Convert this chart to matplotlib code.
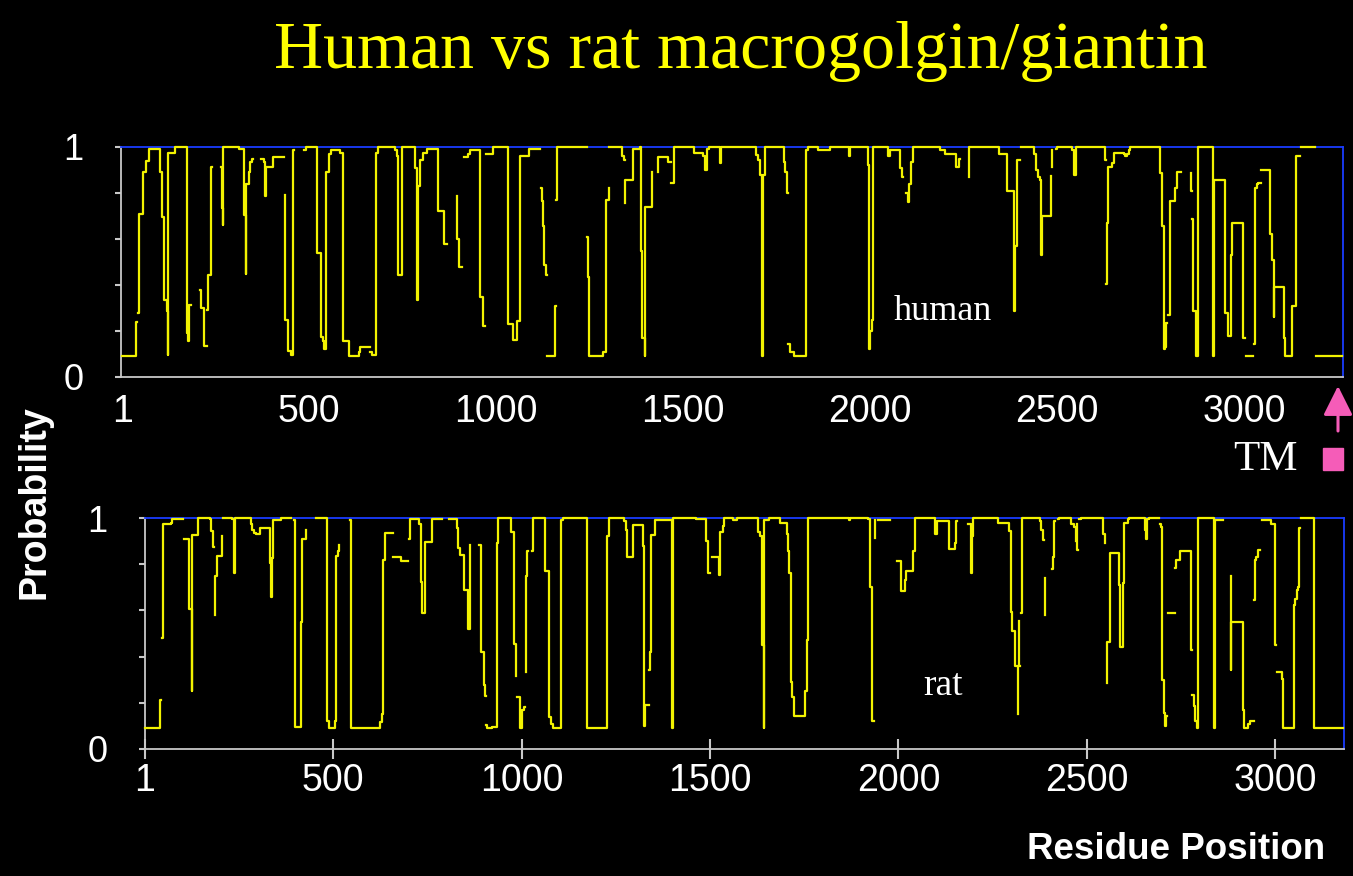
import numpy as np
import matplotlib
matplotlib.use("Agg")
import matplotlib.pyplot as plt
from matplotlib.patches import Rectangle

gap = np.nan

# probability steps: (residue, probability), gap = no line
human_steps = [
    (1, .09), (37, .24), (39, gap), (42, .28), (44, .71), (55, .89), (63, .94), (73, .99),
    (100, .89), (106, .695), (111, .655), (113, .335), (119, .285), (122, .095), (124, .975),
    (141, 1.0), (173, .19), (177, .155), (180, .315), (184, gap), (209, .38), (210, .30),
    (220, .135), (227, gap), (228, .29), (229, .445), (237, .915), (240, gap),
    (264, .915), (267, .735), (270, .66), (271, 1.0), (313, .99), (326, .705), (330, .45),
    (332, .84), (338, .89), (341, .935), (348, .95), (350, gap), (371, .95), (380, .935),
    (381, .785), (386, .915), (404, .955), (433, gap), (435, .79), (436, .25), (444, .115),
    (451, .095), (458, .985), (460, gap), (486, .985), (491, 1.0), (520, .54), (531, .175),
    (537, .155), (540, .12), (544, .89), (553, .97), (559, .985), (582, .975), (591, .155),
    (606, .09), (633, .11), (637, .13), (662, gap), (664, .11), (668, .095), (680, .975),
    (684, 1.0), (731, .985), (735, .96), (738, .445), (748, 1.0), (784, .91), (788, .335),
    (790, .83), (796, .90), (797, .945), (804, .975), (815, .99), (844, .72), (862, .58),
    (868, gap), (895, .785), (896, .60), (902, .48), (908, gap), (913, .955), (926, .97),
    (931, .985), (956, .35), (964, .22), (971, gap), (972, .97), (993, 1.0), (1033, .23),
    (1044, .16), (1057, .245), (1064, .96), (1089, .99), (1117, gap), (1119, .82),
    (1124, .765), (1126, .655), (1129, .485), (1133, .445), (1135, gap), (1137, .09),
    (1158, .31), (1160, gap), (1161, .77), (1163, 1.0), (1243, gap), (1244, .61),
    (1245, .435), (1249, .09), (1287, .11), (1294, .77), (1301, .82), (1302, gap),
    (1303, 1.0), (1336, .96), (1342, .945), (1344, gap), (1345, .755), (1346, .855),
    (1365, .99), (1385, 1.0), (1387, .55), (1391, .17), (1397, .09), (1398, .74),
    (1416, .89), (1418, gap), (1432, .89), (1434, .955), (1461, .935), (1467, gap),
    (1469, .845), (1476, 1.0), (1529, .975), (1554, .96), (1558, .90), (1563, .99),
    (1570, 1.0), (1598, .93), (1601, 1.0), (1694, .965), (1701, .945), (1707, .88),
    (1710, .09), (1714, .88), (1718, 1.0), (1770, .935), (1774, .89), (1778, .80),
    (1780, gap), (1781, .145), (1787, .11), (1798, .09), (1830, .985), (1834, 1.0),
    (1861, .985), (1892, 1.0), (1943, .96), (1946, 1.0), (1994, .92), (1998, .12),
    (2001, .20), (2006, .25), (2007, 1.0), (2047, .96), (2054, .985), (2081, .91),
    (2086, .87), (2089, gap), (2096, .80), (2101, .76), (2105, .84), (2110, .935),
    (2114, 1.0), (2187, .985), (2201, .97), (2230, .915), (2237, .95), (2240, gap),
    (2264, .87), (2265, 1.0), (2345, .97), (2367, .81), (2385, .285), (2388, .57),
    (2392, .57), (2394, .945), (2400, gap), (2403, 1.0), (2438, .97), (2443, .955),
    (2445, .90), (2450, .87), (2454, .855), (2458, .53), (2459, .70), (2483, .875),
    (2485, gap), (2486, .985), (2487, .915), (2488, gap), (2498, .99), (2501, 1.0),
    (2541, .985), (2545, .88), (2551, 1.0), (2629, .945), (2631, gap), (2632, .405),
    (2634, .67), (2637, .915), (2647, .93), (2652, .975), (2678, .97), (2683, .96),
    (2687, .97), (2692, .985), (2696, 1.0), (2776, .885), (2781, .655), (2785, .12),
    (2790, .13), (2792, .235), (2794, gap), (2798, .27), (2803, .765), (2816, .82),
    (2822, .89), (2832, gap), (2858, .885), (2859, .81), (2860, gap), (2862, .685),
    (2865, .285), (2871, .09), (2878, 1.0), (2918, .09), (2921, .855), (2950, .28),
    (2958, .18), (2965, .53), (2969, .67), (2997, .17), (3003, gap), (3005, .09),
    (3025, gap), (3028, .145), (3030, .82), (3034, .84), (3038, .845), (3045, gap),
    (3047, .90), (3071, .62), (3076, .51), (3080, .26), (3081, .39), (3107, .17),
    (3110, .115), (3111, .09), (3129, .31), (3138, .96), (3150, gap), (3152, 1.0),
    (3190, gap), (3192, .09), (3262, .09),
]

rat_steps = [
    (1, .09), (42, .21), (43, gap), (45, .48), (49, .975), (69, .98), (73, .995),
    (102, gap), (104, .91), (118, .605), (125, .25), (127, .925), (142, 1.0), (173, .995),
    (177, .945), (182, .875), (184, gap), (186, .58), (188, .75), (192, .835), (205, .92),
    (206, gap), (208, 1.0), (232, .995), (236, .76), (239, 1.0), (281, .975), (286, .95),
    (290, .935), (296, .93), (305, .955), (333, .805), (336, .66), (339, .825), (341, .99),
    (362, 1.0), (389, gap), (395, .99), (398, .455), (400, .095), (415, .55), (418, .91),
    (427, .95), (429, gap), (455, 1.0), (484, .12), (488, .09), (504, .12), (508, .835),
    (512, .855), (515, .885), (517, gap), (546, .99), (548, .09), (625, .115), (630, .15),
    (633, .82), (638, .935), (658, gap), (660, .83), (680, .815), (698, gap), (702, .91),
    (705, .995), (728, .975), (733, .725), (737, .59), (743, .895), (762, .995), (790, gap),
    (808, .995), (828, .955), (832, .87), (837, .84), (846, .69), (859, .52), (862, .885),
    (864, gap), (887, .885), (892, .42), (900, .275), (903, .23), (905, gap), (907, .105),
    (909, .09), (922, .095), (934, .89), (938, 1.0), (973, .94), (980, .455), (984, .315),
    (986, gap), (989, .225), (995, .105), (997, .09), (1000, .17), (1006, .18), (1008, gap),
    (1011, .335), (1013, .75), (1015, .855), (1017, gap), (1028, .855), (1030, 1.0),
    (1061, .77), (1072, .14), (1077, .11), (1083, .09), (1105, .99), (1109, 1.0),
    (1174, .09), (1227, .92), (1231, 1.0), (1271, .985), (1276, .95), (1280, .83),
    (1296, .97), (1322, .88), (1326, .10), (1328, .19), (1337, gap), (1339, .34),
    (1341, .42), (1343, .925), (1355, .99), (1399, .09), (1402, 1.0), (1463, .995),
    (1490, .90), (1494, .76), (1500, gap), (1505, .83), (1524, .755), (1527, .94),
    (1534, .965), (1537, 1.0), (1562, .99), (1571, 1.0), (1626, .94), (1633, .92),
    (1637, .45), (1642, .09), (1644, .99), (1657, 1.0), (1686, .98), (1703, .93),
    (1708, .855), (1709, .76), (1714, .29), (1718, .225), (1723, .145), (1752, .25),
    (1758, .47), (1761, 1.0), (1869, .99), (1871, 1.0), (1919, .995), (1924, .70),
    (1930, .12), (1934, gap), (1937, .99), (1938, .915), (1939, gap), (1946, .99),
    (1977, gap), (1996, .815), (2008, .685), (2016, .73), (2021, .77), (2038, .855),
    (2043, 1.0), (2098, .93), (2103, .985), (2135, .865), (2149, .89), (2153, .985),
    (2155, gap), (2184, .975), (2193, .76), (2195, .92), (2197, 1.0), (2263, .98),
    (2293, .945), (2298, .595), (2301, .51), (2309, .36), (2316, .15), (2318, gap),
    (2320, .555), (2321, .36), (2322, gap), (2324, .59), (2327, .855), (2329, 1.0),
    (2375, .985), (2379, .95), (2383, .905), (2385, gap), (2388, .58), (2389, .74),
    (2390, gap), (2406, .78), (2411, .83), (2412, .985), (2414, gap), (2424, .995),
    (2426, 1.0), (2459, .975), (2465, .96), (2470, .90), (2472, gap), (2473, .975),
    (2474, .86), (2476, gap), (2479, .995), (2483, 1.0), (2543, .93), (2547, .89),
    (2549, gap), (2552, .285), (2553, .465), (2561, .85), (2585, .71), (2589, .44),
    (2595, .72), (2598, .98), (2609, .995), (2611, 1.0), (2653, .95), (2658, .91),
    (2660, .995), (2664, 1.0), (2690, gap), (2693, .975), (2697, .96), (2699, .30),
    (2704, .155), (2706, .10), (2711, .145), (2713, gap), (2715, .59), (2733, gap),
    (2734, .785), (2735, .82), (2748, .855), (2777, .43), (2779, gap), (2780, .235),
    (2785, .185), (2787, .12), (2793, .09), (2794, 1.0), (2836, .09), (2839, .99),
    (2860, gap), (2881, .75), (2882, .34), (2883, .55), (2915, .17), (2918, .09),
    (2927, .11), (2933, .12), (2942, gap), (2944, .645), (2945, .82), (2948, .83),
    (2953, .86), (2959, gap), (2964, .99), (2988, .975), (2995, .975), (2999, .45),
    (3001, gap), (3003, .335), (3017, .305), (3021, .09), (3049, .625), (3052, .65),
    (3056, .69), (3061, .70), (3063, .955), (3065, gap), (3068, 1.0), (3103, .09),
    (3180, .09),
]

xtick_values = [1, 500, 1000, 1500, 2000, 2500, 3000]
human_marked_ticks = [1, 1000, 1500, 2000]
ytick_values = [0, 0.2, 0.4, 0.6, 0.8, 1.0]
ytick_labels = ['0', '', '', '', '', '1']

W, H = 1353, 876
yellow = '#f2f200'
blue = '#1a3cff'
grey = '#c8c8c8'
pink = '#f55cb8'
sans = 'Liberation Sans'
serif = 'Liberation Serif'

fig = plt.figure(figsize=(W / 100, H / 100), dpi=100, facecolor='black')


def px_axes(left, top, right, bottom):
    return fig.add_axes([left / W, 1 - bottom / H, (right - left) / W, (bottom - top) / H])


def style_axes(ax, xlim, label_pad):
    ax.set_facecolor('black')
    ax.set_xlim(*xlim)
    ax.set_ylim(0, 1)
    ax.spines['top'].set_color(blue)
    ax.spines['right'].set_color(blue)
    ax.spines['left'].set_color(grey)
    ax.spines['bottom'].set_color(grey)
    for s in ax.spines.values():
        s.set_linewidth(1.3)
    ax.set_yticks(ytick_values)
    ax.set_yticklabels(ytick_labels)
    ax.tick_params(axis='y', direction='out', length=4, width=1.5, color=grey,
                   labelcolor='white', labelsize=26, pad=23)
    ax.set_xticks(xtick_values)
    ax.set_xticklabels([str(v) for v in xtick_values])
    ax.tick_params(axis='x', direction='inout', length=14, width=1.5, color=grey,
                   labelcolor='white', labelsize=27, pad=label_pad)
    for lab in ax.get_xticklabels() + ax.get_yticklabels():
        lab.set_family(sans)


def draw_steps(ax, steps):
    pos, prob = zip(*steps)
    ax.plot(pos, prob, drawstyle='steps-post', color=yellow, lw=1.6,
            zorder=3, clip_on=False)


# top panel: human
ax1 = px_axes(121, 147, 1343, 377)
style_axes(ax1, (-3, 3265), 10)
ax1.tick_params(axis='x', which='major', length=0, pad=12)
ax1.set_xticks(human_marked_ticks, minor=True)
ax1.tick_params(axis='x', which='minor', direction='inout', length=14, width=1.5, color=grey)
draw_steps(ax1, human_steps)

# bottom panel: rat
ax2 = px_axes(145, 518, 1344, 749)
style_axes(ax2, (4, 3182), 3)
draw_steps(ax2, rat_steps)

fig.text(741 / W, 1 - 68 / H, 'Human vs rat macrogolgin/giantin', color='#ffff00',
         family=serif, fontsize=49, ha='center', va='baseline')
fig.text(35 / W, 1 - 502 / H, 'Probability', color='white', family=sans,
         fontweight='bold', fontsize=27, rotation=90, ha='center', va='center')
fig.text(1325 / W, 1 - 859 / H, 'Residue Position', color='white', family=sans,
         fontweight='bold', fontsize=26.5, ha='right', va='baseline')
fig.text(943 / W, 1 - 320 / H, 'human', color='white', family=serif,
         fontsize=26, ha='center', va='baseline')
fig.text(943 / W, 1 - 695 / H, 'rat', color='white', family=serif,
         fontsize=27, ha='center', va='baseline')
fig.text(1265 / W, 1 - 470 / H, 'TM', color='white', family=serif,
         fontsize=31, ha='center', va='baseline')

# TM marker and arrow
fig.patches.append(Rectangle((1323 / W, 1 - 470 / H), 20 / W, 22 / H,
                             transform=fig.transFigure, color=pink))
fig.add_artist(plt.Annotation('', xy=(1338 / W, 1 - 386 / H), xytext=(1338 / W, 1 - 431 / H),
                              xycoords='figure fraction', textcoords='figure fraction',
                              arrowprops=dict(arrowstyle='-|>,head_width=0.45,head_length=0.9',
                                              color=pink, lw=2.2, mutation_scale=20,
                                              shrinkA=0, shrinkB=0)))

fig.savefig('out.png', dpi=100, facecolor='black')
